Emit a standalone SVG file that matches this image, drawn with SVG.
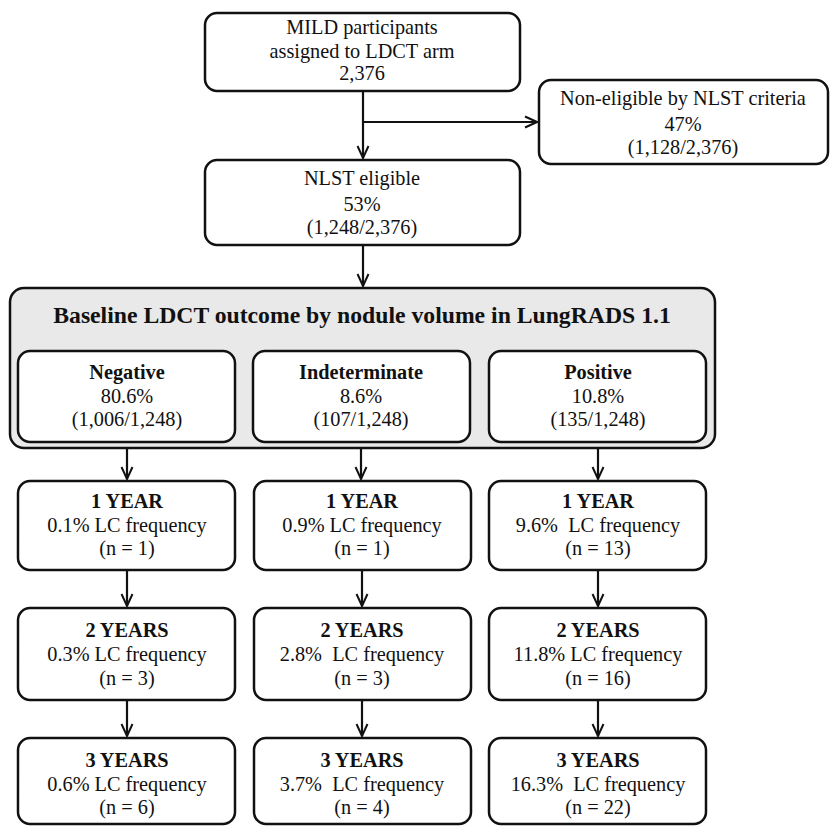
<svg xmlns="http://www.w3.org/2000/svg" width="830" height="826" viewBox="0 0 830 826">
<defs>
<marker id="arr" viewBox="0 0 14 14" refX="13" refY="7" markerWidth="14" markerHeight="14" markerUnits="userSpaceOnUse" orient="auto">
<path d="M1,1.5 L13,7 L1,12.5" fill="none" stroke="#111" stroke-width="2"/>
</marker>
<style>
.box{fill:#fff;stroke:#111;stroke-width:2.5}
.grp{fill:#e9e9e9;stroke:#111;stroke-width:2.5}
text{font-family:"Liberation Serif","DejaVu Serif",serif;font-size:20.3px;fill:#111;text-anchor:middle}
.b{font-weight:bold}
.t{font-size:23.7px;font-weight:bold}
.c{fill:none;stroke:#111;stroke-width:2.2}
</style>
</defs>
<rect width="830" height="826" fill="#fff"/>
<g id="connectors">
<path class="c" d="M363,92 V158" marker-end="url(#arr)"/>
<path class="c" d="M363,122 H537" marker-end="url(#arr)"/>
<path class="c" d="M363,246 V286" marker-end="url(#arr)"/>
<path class="c" d="M127,443 V479" marker-end="url(#arr)"/>
<path class="c" d="M361,443 V479" marker-end="url(#arr)"/>
<path class="c" d="M598,443 V479" marker-end="url(#arr)"/>
<path class="c" d="M127,571 V606" marker-end="url(#arr)"/>
<path class="c" d="M362,571 V606" marker-end="url(#arr)"/>
<path class="c" d="M598,571 V606" marker-end="url(#arr)"/>
<path class="c" d="M127,701 V736" marker-end="url(#arr)"/>
<path class="c" d="M362,701 V736" marker-end="url(#arr)"/>
<path class="c" d="M598,701 V736" marker-end="url(#arr)"/>
</g>
<g id="mild">
<rect class="box" x="205" y="13" width="315" height="78" rx="12"/>
<text x="362" y="34">MILD participants</text>
<text x="362" y="58">assigned to LDCT arm</text>
<text x="362" y="80">2,376</text>
</g>
<g id="noneligible">
<rect class="box" x="539" y="80" width="289" height="84" rx="12"/>
<text x="683" y="105">Non-eligible by NLST criteria</text>
<text x="683" y="131">47%</text>
<text x="683" y="154">(1,128/2,376)</text>
</g>
<g id="eligible">
<rect class="box" x="205" y="160" width="315" height="85" rx="12"/>
<text x="362" y="185">NLST eligible</text>
<text x="362" y="211">53%</text>
<text x="362" y="234">(1,248/2,376)</text>
</g>
<g id="baseline">
<rect class="grp" x="10" y="288" width="705" height="160" rx="14"/>
<text class="t" x="362" y="323">Baseline LDCT outcome by nodule volume in LungRADS 1.1</text>
</g>
<g id="negative">
<rect class="box" x="18" y="351" width="217" height="91" rx="12"/>
<text class="b" x="127" y="379">Negative</text>
<text x="127" y="403">80.6%</text>
<text x="127" y="426">(1,006/1,248)</text>
</g>
<g id="indeterminate">
<rect class="box" x="253" y="351" width="217" height="91" rx="12"/>
<text class="b" x="361" y="379">Indeterminate</text>
<text x="361" y="403">8.6%</text>
<text x="361" y="426">(107/1,248)</text>
</g>
<g id="positive">
<rect class="box" x="489" y="351" width="217" height="91" rx="12"/>
<text class="b" x="598" y="379">Positive</text>
<text x="598" y="403">10.8%</text>
<text x="598" y="426">(135/1,248)</text>
</g>
<g id="neg1">
<rect class="box" x="18" y="481" width="217" height="89" rx="12"/>
<text class="b" x="127" y="508">1 YEAR</text>
<text x="127" y="532">0.1% LC frequency</text>
<text x="127" y="555">(n = 1)</text>
</g>
<g id="ind1">
<rect class="box" x="254" y="481" width="217" height="89" rx="12"/>
<text class="b" x="362" y="508">1 YEAR</text>
<text x="362" y="532">0.9% LC frequency</text>
<text x="362" y="555">(n = 1)</text>
</g>
<g id="pos1">
<rect class="box" x="489" y="481" width="217" height="89" rx="12"/>
<text class="b" x="598" y="508">1 YEAR</text>
<text x="598" y="532" xml:space="preserve">9.6%  LC frequency</text>
<text x="598" y="555">(n = 13)</text>
</g>
<g id="neg2">
<rect class="box" x="18" y="608" width="217" height="92" rx="12"/>
<text class="b" x="127" y="637">2 YEARS</text>
<text x="127" y="661">0.3% LC frequency</text>
<text x="127" y="685">(n = 3)</text>
</g>
<g id="ind2">
<rect class="box" x="254" y="608" width="217" height="92" rx="12"/>
<text class="b" x="362" y="637">2 YEARS</text>
<text x="362" y="661" xml:space="preserve">2.8%  LC frequency</text>
<text x="362" y="685">(n = 3)</text>
</g>
<g id="pos2">
<rect class="box" x="489" y="608" width="217" height="92" rx="12"/>
<text class="b" x="598" y="637">2 YEARS</text>
<text x="598" y="661">11.8% LC frequency</text>
<text x="598" y="685">(n = 16)</text>
</g>
<g id="neg3">
<rect class="box" x="18" y="738" width="217" height="86" rx="12"/>
<text class="b" x="127" y="767">3 YEARS</text>
<text x="127" y="791">0.6% LC frequency</text>
<text x="127" y="814">(n = 6)</text>
</g>
<g id="ind3">
<rect class="box" x="254" y="738" width="217" height="86" rx="12"/>
<text class="b" x="362" y="767">3 YEARS</text>
<text x="362" y="791" xml:space="preserve">3.7%  LC frequency</text>
<text x="362" y="814">(n = 4)</text>
</g>
<g id="pos3">
<rect class="box" x="489" y="738" width="217" height="86" rx="12"/>
<text class="b" x="598" y="767">3 YEARS</text>
<text x="598" y="791" xml:space="preserve">16.3%  LC frequency</text>
<text x="598" y="814">(n = 22)</text>
</g>
</svg>
